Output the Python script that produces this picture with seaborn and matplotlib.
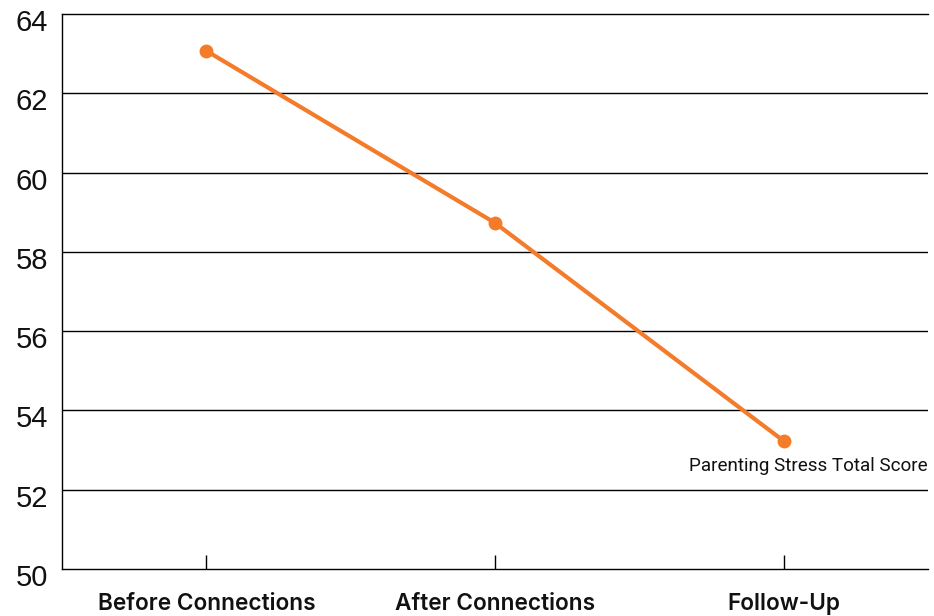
import matplotlib
matplotlib.use("Agg")
import matplotlib.pyplot as plt
from matplotlib.transforms import ScaledTranslation
import seaborn as sns
import pandas as pd

# Parenting stress over the three assessment points
phases = ["Before Connections", "After Connections", "Follow-Up"]
stress_scores = [63.07, 58.73, 53.23]
series_name = "Parenting Stress Total Score"
y_ticks = [50, 52, 54, 56, 58, 60, 62, 64]

df = pd.DataFrame({"phase": phases, "score": stress_scores})

sns.set_theme(style="white")
plt.rcParams["font.family"] = ["Liberation Sans", "DejaVu Sans"]

fig = plt.figure(figsize=(9.34, 6.16), dpi=100)
ax = fig.add_axes([0.0664, 0.0763, 0.9272, 0.901])

orange = "#F47B2A"
sns.lineplot(data=df, x="phase", y="score", ax=ax, color=orange, linewidth=3,
             marker="o", markersize=10, markeredgewidth=0, sort=False)

ax.set_xlim(-0.5, 2.5)
ax.set_ylim(50, 64)
ax.set_yticks(y_ticks)
ax.set_xlabel("")
ax.set_ylabel("")

# horizontal rules at each tick
for t in y_ticks[1:-1]:
    ax.axhline(t, color="black", linewidth=1, zorder=0)

for side in ["top", "left", "bottom"]:
    ax.spines[side].set_visible(True)
    ax.spines[side].set_color("black")
    ax.spines[side].set_linewidth(1)
ax.spines["right"].set_visible(False)

ax.tick_params(axis="y", length=0, pad=10, labelsize=21, labelcolor="#111111")
ax.tick_params(axis="x", direction="in", length=10, width=1, color="black",
               pad=17, labelsize=16.3, labelcolor="#111111", bottom=True)
for lab in ax.get_yticklabels():
    lab.set_fontfamily(["Liberation Sans", "DejaVu Sans"])
for lab in ax.get_xticklabels():
    lab.set_fontfamily(["Inter", "Lato", "DejaVu Sans"])
    lab.set_fontweight("semibold")
shift = ScaledTranslation(0, -6 / 100, fig.dpi_scale_trans)
for lab in ax.get_yticklabels():
    lab.set_transform(lab.get_transform() + shift)

ax.annotate(series_name, xy=(1, stress_scores[-1]),
            xycoords=("axes fraction", "data"), xytext=(0, -18),
            textcoords="offset points", ha="right", va="center",
            fontsize=13.6, color="#111111", family=["Roboto", "DejaVu Sans"])

fig.savefig("out.png", dpi=100)
